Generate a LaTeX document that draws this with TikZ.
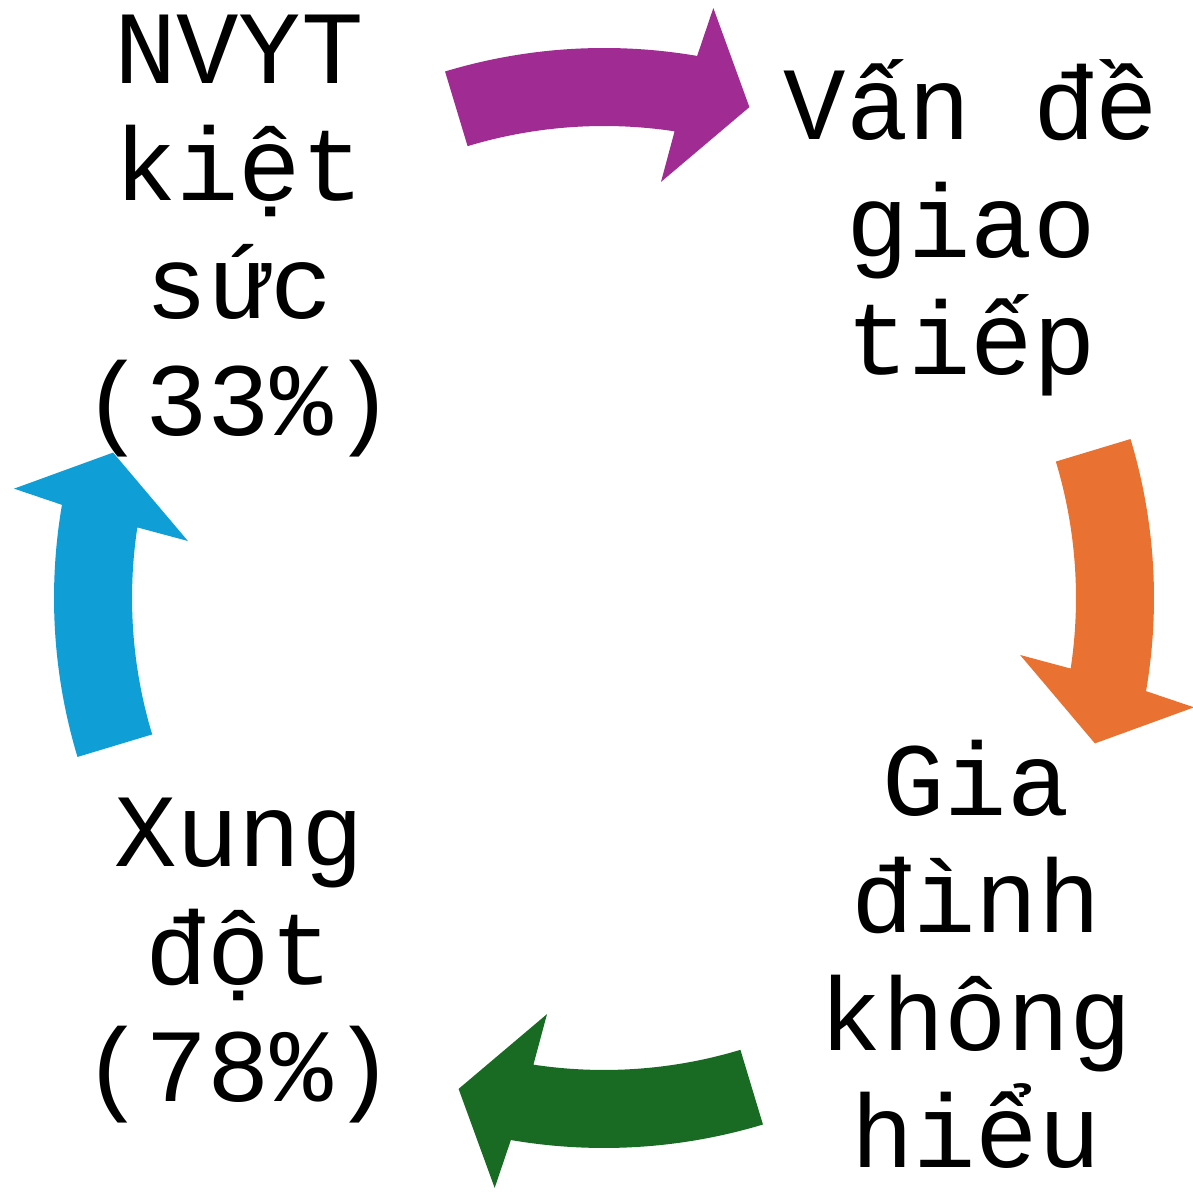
\documentclass[tikz,border=0pt]{standalone}
\usepackage{fontspec}
\newfontfamily\lblfont{Liberation Mono}
\definecolor{cyclepurple}{HTML}{A02B93}
\definecolor{cycleorange}{HTML}{E97132}
\definecolor{cyclegreen}{HTML}{196B24}
\definecolor{cycleblue}{HTML}{0F9ED5}

\begin{document}
\begin{tikzpicture}[x=0.5pt,y=0.5pt,
    lbl/.style={align=center,inner sep=0pt,anchor=base,
      font=\lblfont\fontsize{52}{58.75}\selectfont}]
  \useasboundingbox (0,0) rectangle (1193,1192);
  \coordinate (o) at (604,594);
  \node[lbl] (burnout) at (239,756) {NVYT\\kiệt\\sức\\(33\%)};
  \node[lbl] (talk) at (971,817) {Vấn đề\\giao\\tiếp};
  \node[lbl] (family) at (976,24) {Gia\\đình\\không\\hiểu};
  \node[lbl] (conflict) at (239,90) {Xung\\đột\\(78\%)};
  \foreach \a/\c in {90/cyclepurple,0/cycleorange,-90/cyclegreen,180/cycleblue}
    \fill[\c,shift={(o)}] (\a+16.8:550)
      arc[start angle=\a+16.8,end angle=\a-9.75,radius=550]
      -- (\a-10.5:600) -- (\a-16.5:512) -- (\a-7.8:420) -- (\a-8.6:472)
      arc[start angle=\a-8.6,end angle=\a+16.8,radius=472] -- cycle;
\end{tikzpicture}
\end{document}
